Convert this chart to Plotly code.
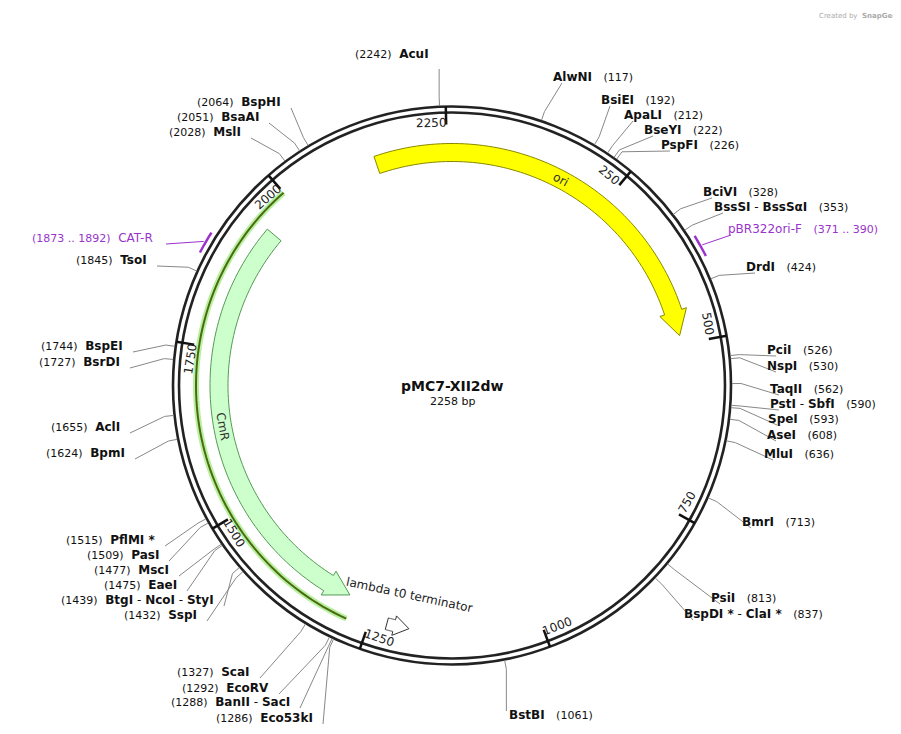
import numpy as np
import plotly.graph_objects as go

TOTAL = 2258
PLASMID = "pMC7-XII2dw"

# enzyme data
enz_names = ["AcuI","AlwNI","BsiEI","ApaLI","BseYI","PspFI","BciVI","BssSI - BssSαI","DrdI",
             "PciI","NspI","TaqII","PstI - SbfI","SpeI","AseI","MluI","BmrI","PsiI","BspDI * - ClaI *",
             "BstBI","Eco53kI","BanII - SacI","EcoRV","ScaI","SspI","BtgI - NcoI - StyI","EaeI","MscI",
             "PasI","PflMI *","BpmI","AclI","BsrDI","BspEI","TsoI","MslI","BsaAI","BspHI"]
enz_pos = [2242,117,192,212,222,226,328,353,424,526,530,562,590,593,608,636,713,813,837,
           1061,1286,1288,1292,1327,1432,1439,1475,1477,1509,1515,1624,1655,1727,1744,1845,2028,2051,2064]
# label anchor (x, y, side) in pixels
enz_lab = [(428,52,"L"),(552,75,"R"),(600,98,"R"),(623,113,"R"),(643,128,"R"),(660,143,"R"),
           (702,190,"R"),(713,205,"R"),(745,265,"R"),(766,348,"R"),(766,364,"R"),(769,387,"R"),
           (769,402,"R"),(767,417,"R"),(766,433,"R"),(763,452,"R"),(741,520,"R"),(710,596,"R"),
           (683,612,"R"),(508,713,"R"),(312,716,"L"),(289,700,"L"),(268,686,"L"),(249,670,"L"),
           (196,613,"L"),(213,598,"L"),(176,583,"L"),(168,568,"L"),(158,553,"L"),(154,538,"L"),
           (124,451,"L"),(119,425,"L"),(119,360,"L"),(122,344,"L"),(146,258,"L"),(240,130,"L"),
           (258,115,"L"),(280,100,"L")]

tick_vals = [250,500,750,1000,1250,1500,1750,2000,2250]

ori_span = (2140, 487)
cmr_span = (1946, 1292)
lambda_span = (1225, 1192)
green_span = (2000, 1282)
primers = [("CAT-R", 1873, 1892), ("pBR322ori-F", 371, 390)]

cx, cy = 444, 377.5
R_OUT, R_IN = 279, 273
YS = 6    # text baseline correction
XS_R = -9  # right-side label x correction
XS_L = -5  # left-side label x correction

def th(p):
    return p / TOTAL * 360.0

def pt(t, r):
    a = np.radians(t)
    return cx + r*np.sin(a), cy - r*np.cos(a)

def arc(t0, t1, r, n=80):
    return [pt(t, r) for t in np.linspace(t0, t1, n)]

def path_from(pts, close=False):
    s = "M " + " L ".join(f"{x:.2f},{y:.2f}" for x, y in pts)
    return s + (" Z" if close else "")

shapes = []
ann = []

def arrow(t0, t1, rin, rout, head, hw, fill, line):
    sgn = 1 if t1 > t0 else -1
    tb = t1 - sgn*head
    pts = arc(t0, tb, rout) + [pt(tb, rout+hw), pt(t1, (rin+rout)/2), pt(tb, rin-hw)] + arc(tb, t0, rin)
    shapes.append(dict(type="path", path=path_from(pts, True), fillcolor=fill,
                       line=dict(color=line, width=1)))

for r in (R_OUT, R_IN):
    shapes.append(dict(type="circle", x0=cx-r, x1=cx+r, y0=cy-r, y1=cy+r,
                       line=dict(color="#222", width=2.6)))

for v in tick_vals:
    t = th(v)
    x0, y0 = pt(t, R_OUT); x1, y1 = pt(t, R_IN-12)
    shapes.append(dict(type="line", x0=x0, y0=y0, x1=x1, y1=y1, line=dict(color="#111", width=2.5)))
    tx, ty = pt(t-3.2, R_IN-10)
    ang = t if t <= 90 else (t-180 if t < 270 else t-360)
    ann.append(dict(x=tx, y=ty, text=str(v), textangle=ang, showarrow=False,
                    font=dict(size=12, color="#222")))

arrow(th(ori_span[0])-360, th(ori_span[1]), 224, 242, 6, 5, "#ffff00", "#888800")
arrow(th(cmr_span[0]), th(cmr_span[1]), 224, 242, 6, 5, "#ccffcc", "#559955")
arrow(th(lambda_span[0]), th(lambda_span[1]), 241, 253, 3.5, 4, "white", "#333")
gp = arc(th(green_span[0]), th(green_span[1]), 256)
shapes.append(dict(type="path", path=path_from(gp), line=dict(color="#b8f0a0", width=6)))
shapes.append(dict(type="path", path=path_from(gp), line=dict(color="#4a6a10", width=2)))

ann.append(dict(x=pt(28, 233)[0], y=pt(28, 233)[1], text="ori", textangle=28, showarrow=False,
                font=dict(size=12, color="#333")))
ann.append(dict(x=pt(260, 233)[0], y=pt(260, 233)[1], text="CmR", textangle=80, showarrow=False,
                font=dict(size=12, color="#333")))
lx, ly = pt(191.5, 214)
ann.append(dict(x=lx, y=ly, text="lambda t0 terminator", textangle=12, showarrow=False,
                font=dict(size=12, color="#222")))

PURP = "#9933cc"
for (name, a, b), (lxx, lyy, side) in zip(primers, [(152,236,"L"), (727,227,"R")]):
    p = arc(th(a)-0.8, th(b)+0.8, 285, 10)
    shapes.append(dict(type="path", path=path_from(p), line=dict(color=PURP, width=2.5)))
    mx, my = pt(th((a+b)/2), 287)
    ex = lxx + (6 if side == "L" else -4)
    shapes.append(dict(type="line", x0=mx, y0=my, x1=ex, y1=lyy, line=dict(color=PURP, width=1)))
    if side == "L":
        txt = f"<span style='font-size:11px'>({a} .. {b})</span>  {name}"
    else:
        txt = f"{name}   <span style='font-size:11px'>({a} .. {b})</span>"
    ann.append(dict(x=lxx, y=lyy, yshift=YS, xshift=XS_L if side == "L" else XS_R, text=txt,
                    showarrow=False, xanchor="right" if side=="L" else "left",
                    font=dict(size=12, color=PURP)))

for name, p, (x, y, side) in zip(enz_names, enz_pos, enz_lab):
    t = th(p)
    x0, y0 = pt(t, R_OUT+1); x1, y1 = pt(t, R_OUT+10)
    if name == "AcuI":
        ex, ey = x1, y+9
    elif name == "BstBI":
        ex, ey = x1, y-10
    else:
        ex = x + 2 if side == "R" else x + 3
        ey = y
    shapes.append(dict(type="path", path=path_from([(x0, y0), (x1, y1), (ex, ey)]),
                       line=dict(color="#888", width=1)))
    nm = " - ".join(f"<b>{s}</b>" for s in name.split(" - "))
    num = f"<span style='font-size:11px'>({p})</span>"
    txt = f"{nm}   {num}" if side == "R" else f"{num}  {nm}"
    ann.append(dict(x=x, y=y, yshift=YS, xshift=XS_R if side == "R" else XS_L, text=txt,
                    showarrow=False, xanchor="left" if side=="R" else "right",
                    font=dict(size=12, color="#111")))

ann.append(dict(x=cx, y=cy+6, yshift=YS, text=f"<b>{PLASMID}</b>", showarrow=False, font=dict(size=14, color="#111")))
ann.append(dict(x=cx, y=cy+22, yshift=YS, text=f"{TOTAL} bp", showarrow=False, font=dict(size=11, color="#111")))
ann.append(dict(x=896, y=8, text="Created by  <b>SnapGene</b>", showarrow=False, xanchor="right",
                font=dict(size=7, color="#aaa")))

fig = go.Figure()
fig.update_layout(width=901, height=734, margin=dict(l=0, r=0, t=0, b=0),
                  plot_bgcolor="white", paper_bgcolor="white",
                  xaxis=dict(range=[0, 901], visible=False, fixedrange=True),
                  yaxis=dict(range=[734, 0], visible=False, fixedrange=True),
                  shapes=shapes, annotations=ann, showlegend=False,
                  font=dict(family="DejaVu Sans"))
fig.write_html("out.html")
